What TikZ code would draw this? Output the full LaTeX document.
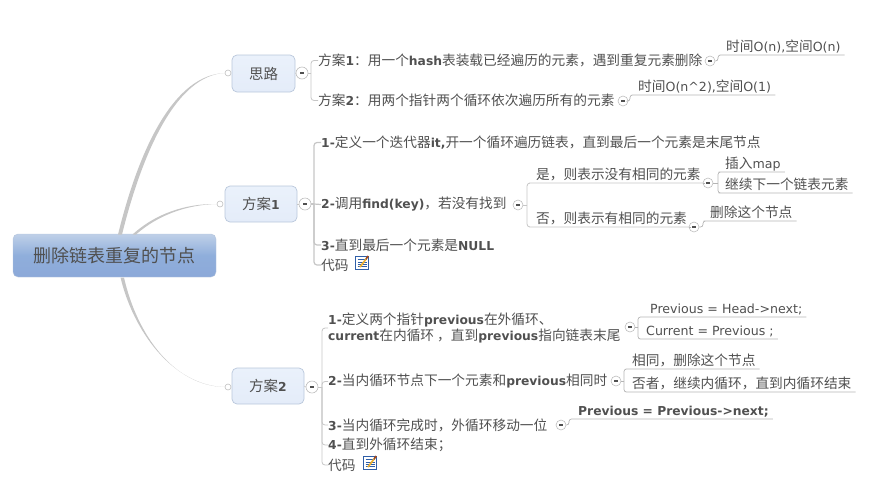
\documentclass[tikz,border=0pt]{standalone}
\usepackage{fontspec}
\setmainfont{Noto Sans CJK SC}
\newfontfamily\lat{DejaVu Sans}
\newcommand\LL[1]{{\lat\fontsize{12.6}{15}\selectfont #1}}
\newcommand\BB[1]{{\lat\bfseries\fontsize{12.3}{15}\selectfont #1}}
\newcommand\FC{\symbol{"FF0C}}
\newcommand\FH{\symbol{"FF1A}}
\newcommand\FS{\symbol{"FF1B}}
\definecolor{ink}{HTML}{505050}
\definecolor{wire}{HTML}{C6C6C6}
\definecolor{line}{HTML}{B4B4B4}
\definecolor{rootedge}{HTML}{B4C4DC}
\definecolor{roottop}{HTML}{BFD0E8}
\definecolor{rootmid}{HTML}{8FAEDB}
\definecolor{rootbot}{HTML}{8CA9D9}
\definecolor{topicedge}{HTML}{B9C7DB}
\definecolor{topictop}{HTML}{EAF1FB}
\definecolor{topicbot}{HTML}{E4ECF9}
\definecolor{foldedge}{HTML}{BEBEBE}
\definecolor{portedge}{HTML}{C0C0C0}
\definecolor{padblue}{HTML}{2F5FA8}
\definecolor{padpen}{HTML}{EDB030}
\definecolor{padtip}{HTML}{A04A20}
\tikzset{
  x=1pt,y=-1pt,
  txt/.style={text=ink,inner sep=0pt,font=\fontsize{13.7}{15.5}\selectfont},
  lab/.style={txt,anchor=west},
  under/.style={txt,anchor=south west,inner xsep=4pt,inner ysep=2.5pt,text depth=1pt},
  rootbox/.style={rounded corners=5pt,draw=rootedge,top color=roottop,bottom color=rootbot,middle color=rootmid,text=ink,minimum width=203pt,minimum height=43pt,inner sep=0pt,font=\fontsize{18}{20}\selectfont},
  topicbox/.style={rounded corners=5pt,draw=topicedge,line width=.7pt,top color=topictop,bottom color=topicbot,text=ink,inner sep=0pt,font=\fontsize{14.5}{16}\selectfont},
  fold/.style={circle,draw=foldedge,fill=white,line width=.6pt,minimum size=#1,inner sep=0pt,path picture={\fill[ink] (path picture bounding box.center) ++(-2.4,-.7) rectangle ++(4.8,1.4);}},
  fold/.default=10pt,
  port/.style={circle,draw=portedge,fill=white,line width=.6pt,minimum size=6pt,inner sep=0pt},
  conn/.style={draw=wire,line width=.8pt,rounded corners=3pt},
  spine/.style={draw=wire,line width=1.2pt,rounded corners=3pt},
  thin/.style={draw=line,line width=.7pt,rounded corners=2.5pt},
  padicon/.style={draw=padblue,fill=white,line width=1pt,minimum size=13pt,inner sep=0pt,path picture={
    \draw[padblue,line width=.6pt] (path picture bounding box.center) ++(-4.5,-3.5) -- ++(9,0) ++(-9,2.4) -- ++(9,0) ++(-9,2.4) -- ++(9,0) ++(-9,2.4) -- ++(9,0);
  }},
  padpencil/.style={draw=padpen,line width=1.7pt},
  padpoint/.style={draw=padtip,line width=1.7pt}
}
\begin{document}
\begin{tikzpicture}
\useasboundingbox (0,0) rectangle (869,488);
% root and main topics
\node[rootbox] (root) at (114.5,255.5) {删除链表重复的节点};
\node[topicbox,minimum width=63pt,minimum height=37pt] (sl) at (263.5,73.5) {思路};
\node[topicbox,minimum width=72pt,minimum height=36pt] (fa1) at (261,204) {方案\BB{1}};
\node[topicbox,minimum width=72pt,minimum height=36pt] (fa2) at (268,386) {方案\BB{2}};
\node[port] (psl) at (228,73) {};
\node[port] (pfa1) at (220,204) {};
\node[port] (pfa2) at (228,387) {};
\coordinate (ra) at (118,234.5); \coordinate (rb) at (122,234.5);
\coordinate (rc) at (132.5,234.5); \coordinate (rd) at (136,234.5);
\coordinate (re) at (120.5,277.5); \coordinate (rf) at (124,277.5);
\fill[wire] (ra) .. controls (140,145) and (175,75) .. (psl.west) .. controls (177,75.5) and (143,150) .. (rb) -- cycle;
\fill[wire] (rc) .. controls (155,214) and (185,203.5) .. (pfa1.west) .. controls (187,204.7) and (158,215) .. (rd) -- cycle;
\fill[wire] (re) .. controls (133,330) and (172,385.5) .. (pfa2.west) .. controls (174,386) and (137,335) .. (rf) -- cycle;
% fold marks level 1
\node[fold=12pt] (fsl) at (302,73) {};
\node[fold=12pt] (ffa1) at (305,204) {};
\node[fold=12pt] (ffa2) at (312,387) {};
\draw[conn] (sl.east) -- (fsl.west);
\draw[conn] (fa1.east) -- (ffa1.west);
\draw[conn] (fa2.east) -- (ffa2.west);
% si lu children
\node[lab] (s1) at (318,60.5) {方案\BB{1}\FH 用一个\BB{hash}表装载已经遍历的元素\FC 遇到重复元素删除};
\node[lab] (s2) at (318,100.5) {方案\BB{2}\FH 用两个指针两个循环依次遍历所有的元素};
\coordinate (bs) at (311,73);
\draw[conn] (fsl.east) -- (bs);
\draw[conn] (bs) |- (s1.west);
\draw[conn] (bs) |- (s2.west);
\node[fold] (fs1) at (710,61) {};
\node[fold] (fs2) at (623,101) {};
\node[under] (s1a) at (722,55) {时间\LL{O(n),}空间\LL{O(n)}};
\node[under] (s2a) at (634,95) {时间\LL{O(n\^{}2),}空间\LL{O(1)}};
\coordinate (bs1) at (718,61); \coordinate (bs2) at (630,101);
\draw[thin] (fs1.east) -- (bs1) |- (s1a.south west) -- (s1a.south east);
\draw[thin] (fs2.east) -- (bs2) |- (s2a.south west) -- (s2a.south east);
% fang an 1 children
\node[lab] (a1) at (321,142.5) {\BB{1-}定义一个迭代器\BB{it,}开一个循环遍历链表\FC 直到最后一个元素是末尾节点};
\node[lab] (a2) at (321,204.5) {\BB{2-}调用\BB{find(key)}\FC 若没有找到};
\node[lab] (a3) at (321,245) {\BB{3-}直到最后一个元素是\BB{NULL}};
\node[lab] (a4) at (321,265) {代码};
\node[padicon] (ia4) at (362,263) {};
\draw[padpencil] (ia4.center) ++(-2,4) -- ++(6,-8);
\draw[padpoint] (ia4.center) ++(4,-4) -- ++(2.2,-3);
\coordinate (ba) at (314,204);
\draw[spine] (ffa1.east) -- (ba);
\draw[spine] (ba) |- (a1.west);
\draw[spine] (ba) -- (a2.west);
\draw[spine] (ba) |- (a3.west);
\draw[spine] (ba) |- (a4.west);
\node[fold] (fa2x) at (518,205) {};
\node[under] (yes) at (532,183) {是\FC 则表示没有相同的元素};
\node[under] (no) at (532,227) {否\FC 则表示有相同的元素};
\coordinate (bq) at (527,205);
\draw[conn] (fa2x.east) -- (bq);
\draw[conn] (bq) |- (yes.south west) -- (yes.south east);
\draw[conn] (bq) |- (no.south west) -- (no.south east);
\node[fold] (fyes) at (708,183) {};
\node[fold] (fno) at (694,227) {};
\draw[thin] (yes.south east) -- (fyes.west);
\draw[thin] (no.south east) -- (fno.west);
\node[under] (y1) at (721,172) {插入\LL{map}};
\node[under] (y2) at (721,193) {继续下一个链表元素};
\node[under] (n1) at (706,221) {删除这个节点};
\coordinate (by) at (718,183); \coordinate (bn) at (703,227);
\draw[thin] (fyes.east) -- (by);
\draw[thin] (by) |- (y1.south west) -- (y1.south east);
\draw[thin] (by) |- (y2.south west) -- (y2.south east);
\draw[thin] (fno.east) -- (bn) |- (n1.south west) -- (n1.south east);
% fang an 2 children
\node[lab,align=left] (b1) at (328,328) {\BB{1-}定义两个指针\BB{previous}在外循环、\\\BB{current}在内循环 \FC 直到\BB{previous}指向链表末尾};
\node[lab] (b2) at (328,381.5) {\BB{2-}当内循环节点下一个元素和\BB{previous}相同时};
\node[lab] (b3) at (328,425) {\BB{3-}当内循环完成时\FC 外循环移动一位};
\node[lab] (b4) at (328,445) {\BB{4-}直到外循环结束\FS};
\node[lab] (b5) at (328,465) {代码};
\node[padicon] (ib5) at (370,463) {};
\draw[padpencil] (ib5.center) ++(-2,4) -- ++(6,-8);
\draw[padpoint] (ib5.center) ++(4,-4) -- ++(2.2,-3);
\coordinate (bb) at (322,387);
\draw[conn] (ffa2.east) -- (bb);
\draw[conn] (bb) |- (b1.west);
\draw[conn] (bb) |- (b2.west);
\draw[conn] (bb) |- (b3.west);
\draw[conn] (bb) |- (b4.west);
\draw[conn] (bb) |- (b5.west);
\node[fold] (fb1) at (630,327) {};
\node[fold] (fb2) at (616,381) {};
\node[fold] (fb3) at (561,425) {};
\node[under] (p1) at (646,317) {\LL{Previous = Head->next;}};
\node[under] (p2) at (642,339) {\LL{Current = Previous ;}};
\node[under] (q1) at (628,369) {相同\FC 删除这个节点};
\node[under] (q2) at (628,392) {否者\FC 继续内循环\FC 直到内循环结束};
\node[under] (r1) at (574,419) {\BB{Previous = Previous->next;}};
\coordinate (bp) at (638,327); \coordinate (bq2) at (624,381); \coordinate (br) at (569,425);
\draw[thin] (fb1.east) -- (bp);
\draw[thin] (bp) |- (p1.south west) -- (p1.south east);
\draw[thin] (bp) |- (p2.south west) -- (p2.south east);
\draw[thin] (fb2.east) -- (bq2);
\draw[thin] (bq2) |- (q1.south west) -- (q1.south east);
\draw[thin] (bq2) |- (q2.south west) -- (q2.south east);
\draw[thin] (fb3.east) -- (br) |- (r1.south west) -- (r1.south east);
\end{tikzpicture}
\end{document}
